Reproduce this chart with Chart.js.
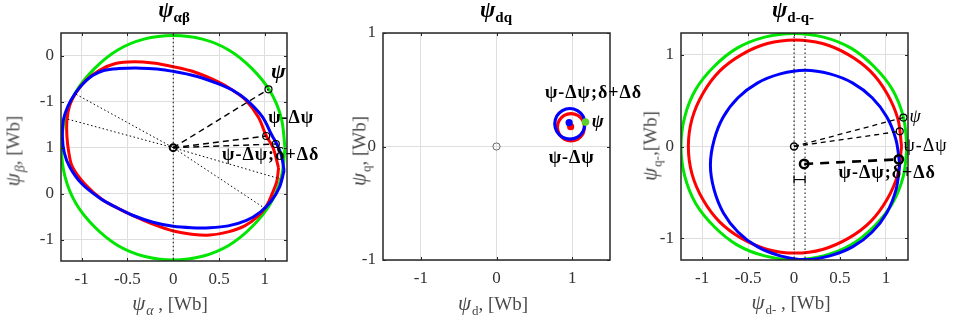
<!DOCTYPE html>
<html>
<head>
<meta charset="utf-8">
<script src="https://cdn.jsdelivr.net/npm/chart.js@4.4.1/dist/chart.umd.min.js"></script>
<style>
  body { margin: 0; background: #fff; }
  #fig { position: relative; width: 958px; height: 327px; overflow: hidden; font-family: "Liberation Serif", serif; }
  canvas { position: absolute; top: 0; }
  .lbl { position: absolute; color: #4a4a4a; font-size: 19px; white-space: nowrap; transform: translate(-50%, -50%); z-index: 5; }
  .lbl > i { font-size: 21px; }
  .lbl sub { font-size: 13px; vertical-align: baseline; position: relative; top: 0.4em; margin-left: 1px; }
  .lbl sub i { font-size: 14px; }
  .ylbl { transform: translate(-50%, -50%) rotate(-90deg); }
  .ttl { position: absolute; top: -3px; color: #000; white-space: nowrap; transform: translateX(-50%); z-index: 5; }
  .ttl i { font-size: 23px; font-weight: bold; }
  .ttl sub { font-size: 15px; font-weight: bold; vertical-align: baseline; position: relative; top: 0.3em; }
</style>
</head>
<body>
<div id="fig">
  <canvas id="ab" width="345" height="327" style="left:0"></canvas>
  <canvas id="dq" width="320" height="327" style="left:330px"></canvas>
  <canvas id="dqn" width="308" height="327" style="left:650px"></canvas>

  <div class="ttl" style="left:174px"><i>ψ</i><sub>αβ</sub></div>
  <div class="ttl" style="left:496px"><i>ψ</i><sub>dq</sub></div>
  <div class="ttl" style="left:793px"><i>ψ</i><sub>d-q-</sub></div>

  <div class="lbl ylbl" style="left:13px;top:151px"><i>ψ</i><sub><i>β</i></sub>, [Wb]</div>
  <div class="lbl" style="left:170px;top:303px"><i>ψ</i><sub><i>α</i></sub> , [Wb]</div>
  <div class="lbl ylbl" style="left:359px;top:151px"><i>ψ</i><sub>q</sub>, [Wb]</div>
  <div class="lbl" style="left:493px;top:303px"><i>ψ</i><sub>d</sub>, [Wb]</div>
  <div class="lbl ylbl" style="left:650px;top:146px"><i>ψ</i><sub>q-</sub>,[Wb]</div>
  <div class="lbl" style="left:791px;top:302px"><i>ψ</i><sub>d-</sub> , [Wb]</div>
</div>

<script>
const serif = '"Liberation Serif", "Times New Roman", serif';
Chart.defaults.font.family = serif;

// ---- alpha-beta plane ----
const abGreen = [[1.22,0],[1.18,0.32],[1.06,0.61],[0.86,0.86],[0.61,1.06],[0.32,1.18],[0,1.22],[-0.32,1.18],[-0.61,1.06],[-0.86,0.86],[-1.06,0.61],[-1.18,0.32],[-1.22,0],[-1.18,-0.32],[-1.06,-0.61],[-0.86,-0.86],[-0.61,-1.06],[-0.32,-1.18],[0,-1.22],[0.32,-1.18],[0.61,-1.06],[0.86,-0.86],[1.06,-0.61],[1.18,-0.32],[1.22,0]];
const abRed = [[1.15,-0.22],[1.09,0],[1.015,0.13],[0.93,0.33],[0.79,0.52],[0.64,0.63],[0.48,0.72],[0.24,0.82],[0,0.88],[-0.22,0.92],[-0.43,0.935],[-0.63,0.915],[-0.80,0.845],[-0.95,0.735],[-1.06,0.60],[-1.13,0.46],[-1.16,0.30],[-1.16,0.12],[-1.14,-0.05],[-1.10,-0.21],[-0.97,-0.39],[-0.78,-0.56],[-0.58,-0.67],[-0.39,-0.76],[-0.2,-0.84],[0,-0.905],[0.2,-0.94],[0.40,-0.95],[0.60,-0.915],[0.78,-0.85],[0.92,-0.75],[1.02,-0.63],[1.08,-0.50],[1.13,-0.37],[1.15,-0.22]];
const abBlue = [[1.21,-0.25],[1.18,-0.08],[1.13,0.04],[1.08,0.13],[0.97,0.34],[0.80,0.52],[0.64,0.63],[0.48,0.70],[0.24,0.78],[0,0.83],[-0.18,0.855],[-0.36,0.865],[-0.60,0.86],[-0.76,0.84],[-0.88,0.785],[-0.98,0.70],[-1.07,0.59],[-1.15,0.45],[-1.20,0.30],[-1.21,0.12],[-1.19,-0.05],[-1.13,-0.21],[-1.0,-0.39],[-0.80,-0.55],[-0.62,-0.65],[-0.43,-0.74],[-0.22,-0.81],[0,-0.855],[0.2,-0.87],[0.40,-0.87],[0.60,-0.85],[0.80,-0.79],[0.95,-0.70],[1.07,-0.58],[1.16,-0.43],[1.21,-0.25]];
const abAxisA = [[-1.06,0.58],[0,0],[1.0,-0.66]];
const abAxisB = [[-1.15,0.31],[0,0],[1.17,-0.34]];
const abPsi = [1.04,0.635];
const abPsiD = [1.015,0.127];
const abPsiDD = [1.12,0.04];
const abTicks = [-1,-0.5,0,0.5,1];
const abXLabels = ['-1','-0.5','0','0.5','1'];
const abYLabels = ['-1','0','1','-1','0'];

// ---- dq plane ----
const dqBlue = [[1.17,0.2],[1.143,0.268],[1.07,0.317],[0.97,0.335],[0.87,0.317],[0.797,0.268],[0.77,0.2],[0.797,0.132],[0.87,0.083],[0.97,0.065],[1.07,0.083],[1.143,0.132],[1.17,0.2]];
const dqRed = [[1.165,0.17],[1.141,0.23],[1.075,0.274],[0.985,0.29],[0.895,0.274],[0.829,0.23],[0.805,0.17],[0.829,0.11],[0.895,0.066],[0.985,0.05],[1.075,0.066],[1.141,0.11],[1.165,0.17]];
const dqBlueDot = [0.96,0.21];
const dqRedDot = [0.98,0.175];
const dqGreenDot = [1.175,0.215];
const dqTicks = [-1,0,1];
const dqLabels = ['-1','0','1'];

// ---- d-q- plane ----
const nGreen = [[1.23,0],[1.19,0.32],[1.07,0.62],[0.87,0.87],[0.62,1.07],[0.32,1.19],[0,1.23],[-0.32,1.19],[-0.62,1.07],[-0.87,0.87],[-1.07,0.62],[-1.19,0.32],[-1.23,0],[-1.19,-0.32],[-1.07,-0.62],[-0.87,-0.87],[-0.62,-1.07],[-0.32,-1.19],[0,-1.23],[0.32,-1.19],[0.62,-1.07],[0.87,-0.87],[1.07,-0.62],[1.19,-0.32],[1.23,0]];
const nRed = [[1.17,0],[1.13,0.30],[1.01,0.58],[0.83,0.82],[0.59,1.00],[0.31,1.12],[0.01,1.16],[-0.29,1.12],[-0.57,1.00],[-0.81,0.82],[-0.99,0.58],[-1.11,0.30],[-1.15,0],[-1.11,-0.30],[-0.99,-0.58],[-0.81,-0.82],[-0.57,-1.00],[-0.29,-1.12],[0.01,-1.16],[0.31,-1.12],[0.59,-1.00],[0.83,-0.82],[1.01,-0.58],[1.13,-0.30],[1.17,0]];
const nBlue = [[1.15,-0.2],[1.11,0.07],[1.01,0.32],[0.85,0.53],[0.64,0.69],[0.39,0.79],[0.12,0.83],[-0.15,0.79],[-0.40,0.69],[-0.61,0.53],[-0.77,0.32],[-0.87,0.07],[-0.91,-0.2],[-0.87,-0.47],[-0.77,-0.72],[-0.61,-0.93],[-0.40,-1.09],[-0.15,-1.19],[0.12,-1.23],[0.39,-1.19],[0.64,-1.09],[0.85,-0.93],[1.01,-0.72],[1.11,-0.47],[1.15,-0.2]];
const nOrigin = [0,0];
const nShift = [0.11,-0.19];
const nPsi = [1.19,0.315];
const nPsiD = [1.15,0.165];
const nPsiDD = [1.14,-0.14];
const nOffset = [[0,-0.36],[0.12,-0.36]];
const nTicksX = [-1,-0.5,0,0.5,1];
const nLabelsX = ['-1','-0.5','0','0.5','1'];
const nTicksY = [-1,0,1];
const nLabelsY = ['-1','0','1'];

const pts = a => a.map(([x, y]) => ({ x, y }));

// tension near 1/3 keeps the bezier handles close to a true arc
function curve(data, color, width) {
  return { data: pts(data), showLine: true, borderColor: color, borderWidth: width || 3,
           pointRadius: 0, tension: 0.34, fill: false };
}
function dotted(data) {
  return { data: pts(data), showLine: true, borderColor: '#000', borderWidth: 1,
           borderDash: [1.5, 2.5], pointRadius: 0, tension: 0 };
}
function dashed(a, b, w, dash) {
  return { data: pts([a, b]), showLine: true, borderColor: '#000', borderWidth: w,
           borderDash: dash, pointRadius: 0, tension: 0 };
}
function ring(p, r, w, color) {
  return { data: pts([p]), showLine: false, pointRadius: r, pointBorderWidth: w,
           pointBorderColor: color || '#000', pointBackgroundColor: 'rgba(0,0,0,0)' };
}
function dot(p, r, color) {
  return { data: pts([p]), showLine: false, pointRadius: r, pointBorderWidth: 0,
           pointBackgroundColor: color };
}

function axis(pos, min, max, ticks, labels, size, pad) {
  const horiz = pos === 'bottom';
  return {
    type: 'linear', position: pos, min, max,
    afterBuildTicks: s => { s.ticks = ticks.map(v => ({ value: v })); },
    afterFit: s => { if (horiz) s.height = size; else s.width = size; },
    grid: { color: '#dedede', lineWidth: 1, drawTicks: false },
    border: { display: false },
    ticks: { autoSkip: false, maxRotation: 0, padding: pad, color: '#333',
             font: { size: 17 }, callback: (v, i) => labels[i] }
  };
}

// frame plus short inward tick marks on all four sides
const frame = {
  id: 'frame',
  afterDatasetsDraw(chart) {
    const { ctx, chartArea: a, scales } = chart;
    ctx.save();
    ctx.strokeStyle = '#262626';
    ctx.lineWidth = 1;
    ctx.beginPath();
    scales.x.ticks.forEach(t => {
      const px = Math.round(scales.x.getPixelForValue(t.value)) + 0.5;
      ctx.moveTo(px, a.bottom); ctx.lineTo(px, a.bottom - 3);
      ctx.moveTo(px, a.top); ctx.lineTo(px, a.top + 3);
    });
    scales.y.ticks.forEach(t => {
      const py = Math.round(scales.y.getPixelForValue(t.value)) + 0.5;
      ctx.moveTo(a.left, py); ctx.lineTo(a.left + 3, py);
      ctx.moveTo(a.right, py); ctx.lineTo(a.right - 3, py);
    });
    ctx.stroke();
    ctx.lineWidth = 1.5;
    ctx.strokeRect(a.left, a.top, a.right - a.left, a.bottom - a.top);
    ctx.restore();
  }
};

// text annotations placed at data coordinates
function notes(items) {
  return {
    id: 'notes',
    afterDraw(chart) {
      const { ctx, scales } = chart;
      ctx.save();
      ctx.fillStyle = '#000';
      ctx.textBaseline = 'middle';
      items.forEach(n => {
        ctx.font = n.font + ' ' + serif;
        ctx.textAlign = n.align || 'left';
        ctx.letterSpacing = n.spacing || '0px';
        ctx.fillText(n.text, scales.x.getPixelForValue(n.at[0]), scales.y.getPixelForValue(n.at[1]));
      });
      ctx.restore();
    }
  };
}

function make(id, datasets, scales, padding, items) {
  return new Chart(document.getElementById(id), {
    type: 'scatter',
    data: { datasets },
    options: {
      responsive: false, animation: false, events: [],
      layout: { padding },
      plugins: { legend: { display: false }, tooltip: { enabled: false } },
      scales
    },
    plugins: [frame, notes(items)]
  });
}

make('ab', [
  ring([0, 0], 3.5, 2),
  ring(abPsi, 3.5, 1.2),
  ring(abPsiD, 3.5, 1.2),
  ring(abPsiDD, 3.5, 1.2),
  dashed([0, 0], abPsi, 1.4, [6, 4]),
  dashed([0, 0], abPsiD, 1.4, [6, 4]),
  dashed([0, 0], abPsiDD, 1.4, [6, 4]),
  dotted(abAxisA),
  dotted(abAxisB),
  dotted([[0, -1.3], [0, 1.3]]),
  curve(abBlue, '#0000ff'),
  curve(abRed, '#ff0000'),
  curve(abGreen, '#00e600')
], {
  x: axis('bottom', -1.225, 1.242, abTicks, abXLabels, 66, 8),
  y: axis('left', -1.232, 1.247, abTicks, abYLabels, 61, 7)
}, { top: 33, right: 58, left: 0, bottom: 0 }, [
  { at: [1.147, 0.815], text: 'ψ', font: 'bold italic 22px', align: 'center' },
  { at: [1.036, 0.323], text: 'ψ-Δψ', font: 'bold 18px', spacing: '1px' },
  { at: [0.533, -0.08], text: 'ψ-Δψ;δ+Δδ', font: 'bold 18px', spacing: '1px' }
]);

make('dq', [
  dot(dqGreenDot, 3.8, '#5fd02a'),
  dot(dqBlueDot, 3.6, '#0000ff'),
  dot(dqRedDot, 3.6, '#ff0000'),
  ring([0, 0], 3.6, 1, '#666'),
  curve(dqBlue, '#0000ff', 3.2),
  curve(dqRed, '#ff0000', 3.2)
], {
  x: axis('bottom', -1.5, 1.5, dqTicks, dqLabels, 67, 8),
  y: axis('left', -1, 1, dqTicks, dqLabels, 53, 7)
}, { top: 33, right: 40, left: 0, bottom: 0 }, [
  { at: [0.64, 0.467], text: 'ψ-Δψ;δ+Δδ', font: 'bold 18px', spacing: '1px' },
  { at: [1.26, 0.215], text: 'ψ', font: 'bold italic 18px' },
  { at: [0.69, -0.10], text: 'ψ-Δψ', font: 'bold 18px', spacing: '1px' }
]);

make('dqn', [
  ring(nOrigin, 3.5, 1.5),
  ring(nShift, 4.2, 2.5),
  ring(nPsi, 3.5, 1.2),
  ring(nPsiD, 3.5, 1.2),
  ring(nPsiDD, 4.2, 2.5),
  dashed(nOrigin, nPsi, 1.3, [5, 4]),
  dashed(nOrigin, nPsiD, 1.3, [5, 4]),
  dashed(nShift, nPsiDD, 2.6, [9, 7]),
  Object.assign(dashed(nOffset[0], nOffset[1], 1.2, []), { pointStyle: 'line', rotation: 90, pointRadius: 4, pointBorderColor: '#000', pointBorderWidth: 1.2 }),
  dotted([[0, -1.3], [0, 1.3]]),
  dotted([[0.12, -1.3], [0.12, 1.3]]),
  curve(nBlue, '#0000ff'),
  curve(nRed, '#ff0000'),
  curve(nGreen, '#00e600')
], {
  x: axis('bottom', -1.23, 1.24, nTicksX, nLabelsX, 67, 8),
  y: axis('left', -1.235, 1.235, nTicksY, nLabelsY, 31, 7)
}, { top: 33, right: 50, left: 0, bottom: 0 }, [
  { at: [1.255, 0.315], text: 'ψ', font: 'italic 18px' },
  { at: [1.19, 0.0], text: 'ψ-Δψ', font: '18px', spacing: '1px' },
  { at: [0.485, -0.297], text: 'ψ-Δψ;δ+Δδ', font: 'bold 18px', spacing: '1px' }
]);
</script>
</body>
</html>
